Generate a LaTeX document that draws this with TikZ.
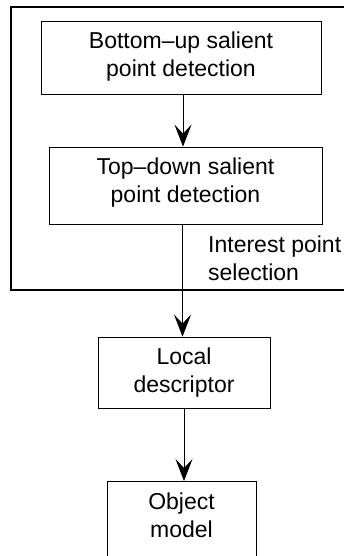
\documentclass[tikz,border=0pt]{standalone}
\usepackage{fontspec}
\setmainfont{Liberation Sans}
\usetikzlibrary{arrows.meta}
\begin{document}
\begin{tikzpicture}[x=1pt,y=-1pt,
  box/.style={draw, line width=0.8pt, inner sep=0pt, align=center},
  txt/.style={font=\fontsize{23}{27.5}\selectfont, inner sep=0pt, align=center},
  flow/.style={line width=0.8pt, -{Stealth[length=22pt, width=17pt, inset=9pt]}},
  frame/.style={line width=1.1pt}]
\useasboundingbox (0,0) rectangle (344,556);
\clip (0,0) rectangle (344,556);
\fill[white] (0,0) rectangle (344,556);
% outer frame
\draw[frame] (360,7) -- (11,7) -- (11,290) -- (360,290);
% boxes
\node[box, minimum width=280pt, minimum height=73pt] (b1) at (181,57.5) {};
\node[txt] (t1) at (181,56.5) {Bottom–up salient\\point detection};
\node[box, minimum width=273pt, minimum height=77pt] (b2) at (185.5,185.5) {};
\node[txt] (t2) at (185.5,182.5) {Top–down salient\\point detection};
\node[box, minimum width=172pt, minimum height=71pt] (b3) at (184,372.5) {};
\node[txt] (t3) at (184,372.5) {Local\\descriptor};
\node[box, minimum width=149pt, minimum height=100pt, anchor=north] (b4) at (181.5,481) {};
\node[txt] (t4) at (181.5,515.5) {Object\\model};
% label
\node[txt, align=left, anchor=west] (lab) at (208,258.5) {Interest point\\selection};
% connectors
\coordinate (xa) at (183,0);
\coordinate (xb) at (182.5,0);
\coordinate (xc) at (184,0);
\draw[flow] (b1.south -| xa) -- (b2.north -| xa);
\draw[flow] (b2.south -| xb) -- (b3.north -| xb);
\draw[flow] (b3.south -| xc) -- (b4.north -| xc);
\end{tikzpicture}
\end{document}
